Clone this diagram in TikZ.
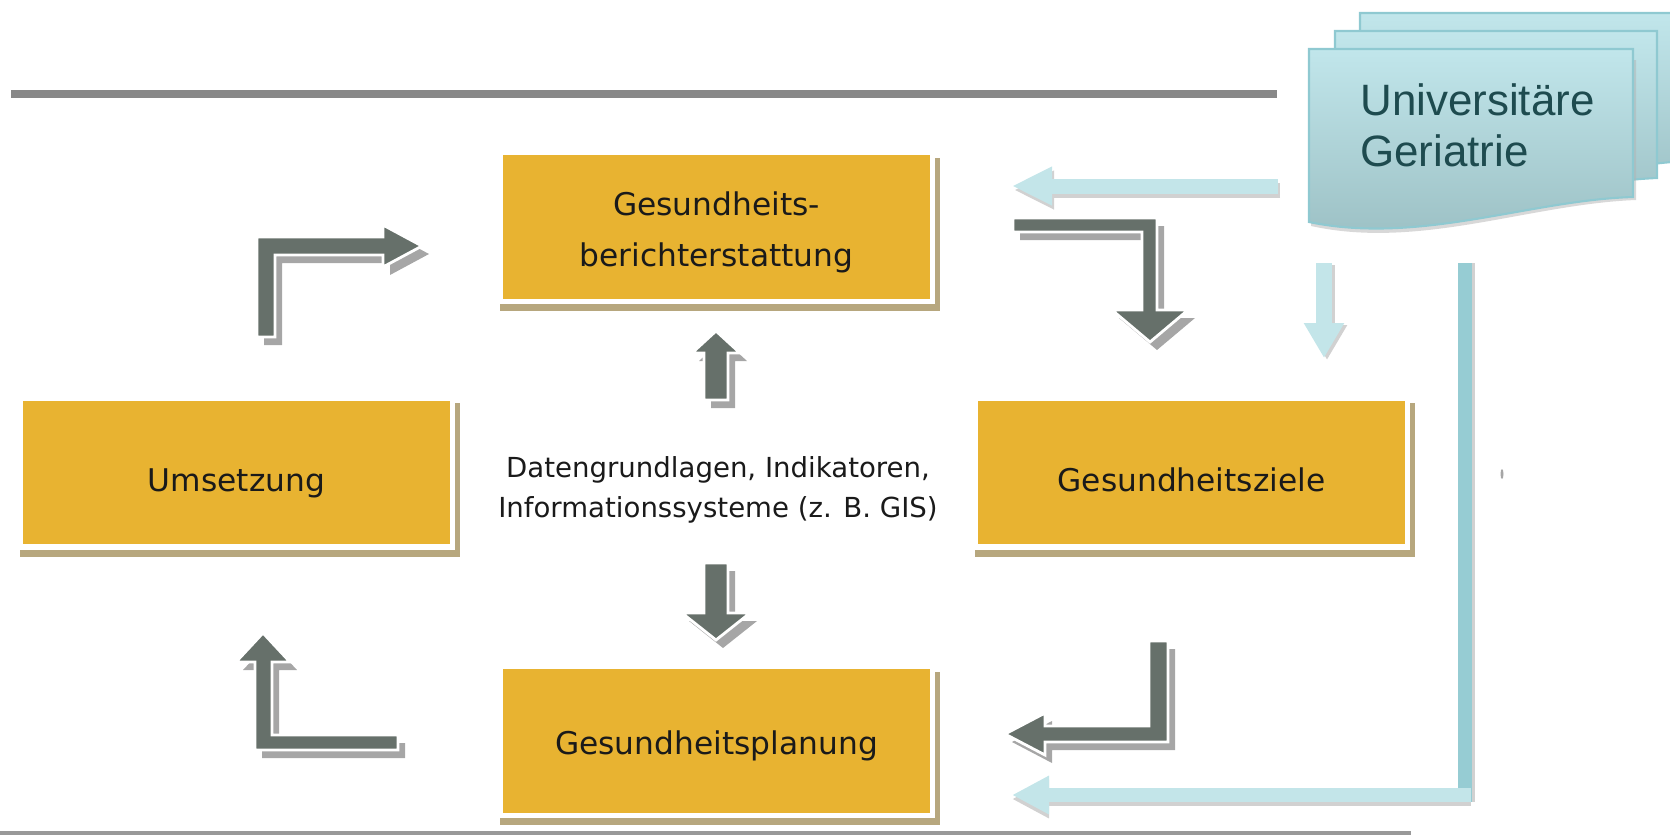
\documentclass[tikz,border=0pt]{standalone}
\usepackage{fontspec}
\newfontfamily\boxfont{DejaVu Sans}
\newfontfamily\unifont{Liberation Sans}
\usetikzlibrary{arrows.meta,calc}
\pgfdeclarelayer{background}
\pgfsetlayers{background,main}
\definecolor{boxyellow}{HTML}{E8B331}
\definecolor{txt}{HTML}{1A1A1A}
\definecolor{gdark}{HTML}{66706A}
\definecolor{gshadow}{HTML}{A6A6A6}
\definecolor{boxshadow}{HTML}{B7A77E}
\definecolor{tealL}{HTML}{C3E5E9}
\definecolor{tealD}{HTML}{96CCD3}
\definecolor{cloudtop}{HTML}{C1E6EB}
\definecolor{cloudbot}{HTML}{9BBFC3}
\definecolor{cloudborder}{HTML}{8FC9D1}
\definecolor{unitext}{HTML}{1E4B4F}
\definecolor{linegray}{HTML}{888888}
\newcommand{\blockarrow}[1]{%
  \fill[gshadow,shift={(7,8)}] #1;
  \filldraw[draw=white,line width=1.6pt,fill=gdark] #1;
}
\begin{document}
\begin{tikzpicture}[x=0.02cm,y=-0.02cm,
  ybox/.style={fill=boxyellow,draw=white,line width=3pt,minimum width=8.64cm,minimum height=2.98cm,inner sep=0,align=center,text=txt,text depth=0pt,font=\boxfont\fontsize{17.8}{29.5}\selectfont},
  midtext/.style={align=center,text=txt,inner sep=0,font=\boxfont\fontsize{15.7}{23}\selectfont},
  tealarrow/.style={draw=tealL,line width=0.3cm,-{Triangle[length=0.8cm,width=0.72cm]}},
  tealshadow/.style={draw=black!18,line width=0.3cm,-{Triangle[length=0.8cm,width=0.72cm]}},
  cloudbox/.style={top color=cloudtop,bottom color=cloudbot,draw=cloudborder,line width=1.2pt}
]
\useasboundingbox (0,0) rectangle (1670,836);
\clip (0,0) rectangle (1670,836);

% rules
\draw[linegray,line width=0.15cm] (11,94) -- (1277,94);
\draw[black!40,line width=0.08cm] (0,833) -- (1411,833);

% boxes
\node[ybox,text height=45.4pt] (ber) at (716.5,227) {Gesundheits-\\berichterstattung};
\node[ybox,text height=21.3pt] (ums) at (236.5,472.5) {Umsetzung};
\node[ybox,text height=21.3pt] (ziel) at (1191.5,472.5) {Gesundheitsziele};
\node[ybox,text height=15.3pt] (plan) at (716.5,741) {Gesundheitsplanung};
\begin{pgfonlayer}{background}
\foreach \n in {ber,ums,ziel,plan}
  \fill[boxshadow] ($(\n.north west)+(2,8)$) rectangle ($(\n.south east)+(5,7)$);
\end{pgfonlayer}

\node[midtext] (data) at (718,490) {Datengrundlagen, Indikatoren,\\Informationssysteme (z. B. GIS)};

% grey block arrows
\blockarrow{(257,337) -- (257,237) -- (383,237) -- (383,225) -- (422,246) -- (383,267) -- (383,255) -- (275,255) -- (275,337) -- cycle}
\blockarrow{(1013,218) -- (1157,218) -- (1157,310) -- (1188,310) -- (1150,342) -- (1112,310) -- (1142,310) -- (1142,232) -- (1013,232) -- cycle}
\blockarrow{(1149,641) -- (1168,641) -- (1168,742) -- (1045,742) -- (1045,755) -- (1005,734) -- (1045,713) -- (1045,726) -- (1149,726) -- cycle}
\blockarrow{(255,750) -- (255,662) -- (236,662) -- (263,633) -- (290,662) -- (272,662) -- (272,735) -- (398,735) -- (398,750) -- cycle}
\blockarrow{(704,400) -- (704,353) -- (692,353) -- (716,331) -- (740,353) -- (728,353) -- (728,400) -- cycle}
\blockarrow{(704,563) -- (728,563) -- (728,613) -- (750,613) -- (716,640) -- (682,613) -- (704,613) -- cycle}

% teal connectors
\coordinate (t1a) at (1278,186);
\coordinate (t1b) at (1012,186);
\coordinate (t2a) at (1324,263);
\coordinate (t2b) at (1324,358);
\coordinate (tLa) at (1465,263);
\coordinate (tLc) at (1465,795);
\coordinate (tLb) at (1012,795);
\draw[tealshadow] ($(t1a)+(2,4)$) -- ($(t1b)+(2,4)$);
\draw[tealarrow] (t1a) -- (t1b);
\draw[tealshadow,line width=0.32cm,-{Triangle[length=0.7cm,width=0.76cm]}] ($(t2a)+(3,2)$) -- ($(t2b)+(3,2)$);
\draw[tealarrow,line width=0.32cm,-{Triangle[length=0.7cm,width=0.76cm]}] (t2a) -- (t2b);
\draw[black!18,line width=0.28cm] ($(tLa)+(3,0)$) -- ($(tLc)+(3,7)$);
\draw[tealD,line width=0.28cm] (tLa) -- ($(tLc)+(0,7)$);
\draw[tealshadow,line width=0.28cm,-{Triangle[length=0.74cm,width=0.72cm]}] ($(tLc)+(6,4)$) -- ($(tLb)+(0,4)$);
\draw[tealarrow,line width=0.28cm,-{Triangle[length=0.74cm,width=0.72cm]}] ($(tLc)+(6,0)$) -- (tLb);
\fill[black!35] (1502,474) ellipse [x radius=1.5, y radius=5];

% document stack
\shadedraw[cloudbox] (1360,13) -- (1700,13) -- (1700,160) .. controls (1590,165) and (1470,205) .. (1360,185) -- cycle;
\shadedraw[cloudbox] (1335,31) -- (1657,31) -- (1657,178) .. controls (1560,182) and (1450,222) .. (1335,203) -- cycle;
\fill[black!30,opacity=0.5] (1311,60) -- (1636,60) -- (1636,200) .. controls (1530,204) and (1420,250) .. (1311,226) -- cycle;
\shadedraw[cloudbox] (1309,49) -- (1633,49) -- (1633,197) .. controls (1530,200) and (1420,245) .. (1309,222) -- cycle;
\node[anchor=base west,align=left,inner sep=0,text=unitext,font=\unifont\fontsize{25}{29}\selectfont] (uni) at (1360,166) {Universitäre\\Geriatrie};
\end{tikzpicture}
\end{document}
